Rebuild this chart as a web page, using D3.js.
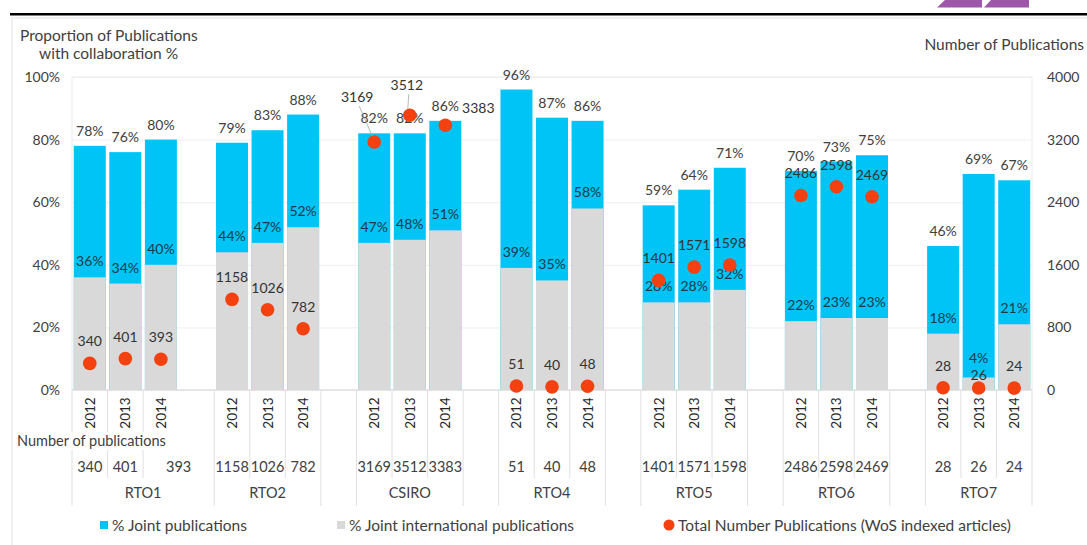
<!DOCTYPE html>
<html>
<head>
<meta charset="utf-8">
<script src="https://cdn.jsdelivr.net/npm/d3@7"></script>
<style>
  html, body { margin: 0; padding: 0; background: #fff; }
  svg { display: block; font-family: Lato, "Open Sans", sans-serif; }
</style>
</head>
<body>
<svg id="chart" width="1087" height="545"></svg>
<script>
// ---------- DATA ----------
const groups = ["RTO1", "RTO2", "CSIRO", "RTO4", "RTO5", "RTO6", "RTO7"];
const years = ["2012", "2013", "2014"];
const jointPct = [78, 76, 80, 79, 83, 88, 82, 82, 86, 96, 87, 86, 59, 64, 71, 70, 73, 75, 46, 69, 67];
const intlPct = [36, 34, 40, 44, 47, 52, 47, 48, 51, 39, 35, 58, 28, 28, 32, 22, 23, 23, 18, 4, 21];
const totalPubs = [340, 401, 393, 1158, 1026, 782, 3169, 3512, 3383, 51, 40, 48, 1401, 1571, 1598, 2486, 2598, 2469, 28, 26, 24];
const leftTicks = [0, 20, 40, 60, 80, 100];
const rightTicks = [0, 800, 1600, 2400, 3200, 4000];
const legendLabels = ["% Joint publications", "% Joint international publications", "Total Number Publications (WoS indexed articles)"];

// ---------- SETUP ----------
const svg = d3.select("#chart");
const BLUE = "#00c3f6", GREY = "#d9d9d9", RED = "#f5400f", TXT = "#404040";
const L = 72, R = 1032, T = 77, B = 390;
const FS_LAB = 14, FS_TITLE = 15.5;

// slots: 3 years per group + a blank slot between groups
const slots = [];
const rows = [];
groups.forEach((g, gi) => {
  years.forEach((y, yi) => {
    const key = g + "-" + y;
    slots.push(key);
    const i = gi * 3 + yi;
    rows.push({ key, group: g, year: y, gi, yi, joint: jointPct[i], intl: intlPct[i], total: totalPubs[i] });
  });
  if (gi < groups.length - 1) slots.push("blank-" + gi);
});

const x = d3.scaleBand().domain(slots).range([L, R]).paddingInner(0.1).paddingOuter(0.05);
const step = x.step();
const cx = k => x(k) + x.bandwidth() / 2;
const y = d3.scaleLinear().domain([0, 100]).range([B, T]);
const yR = d3.scaleLinear().domain([0, 4000]).range([B, T]);

// frame / decoration
svg.append("rect").attr("x", 12).attr("y", 18).attr("width", 1090).attr("height", 540)
  .attr("fill", "none").attr("stroke", "#e3e3e3");
svg.append("line").attr("x1", 10).attr("x2", 1087).attr("y1", 14.3).attr("y2", 14.3)
  .attr("stroke", "#000").attr("stroke-width", 2.6);
svg.append("polygon").attr("points", "945,0 982,0 982,7.5 937,7.5").attr("fill", "#9d58a9");
svg.append("polygon").attr("points", "991,0 1029,0 1029,7.5 984,7.5").attr("fill", "#9d58a9");

// plot area border + grid
svg.append("rect").attr("x", L).attr("y", T).attr("width", R - L).attr("height", B - T)
  .attr("fill", "none").attr("stroke", "#ececec");
const grid = svg.append("g").attr("transform", `translate(${L},0)`)
  .call(d3.axisLeft(y).tickValues(leftTicks).tickSize(-(R - L)).tickFormat(""));
grid.select(".domain").remove();
grid.selectAll("line").attr("stroke", "#eeeeee");

// left axis
const ax = svg.append("g").attr("transform", `translate(${L},0)`)
  .call(d3.axisLeft(y).tickValues(leftTicks).tickSize(0).tickPadding(12).tickFormat(d => d + "%"));
ax.select(".domain").remove();
ax.selectAll("text").attr("font-size", 14).attr("fill", TXT).attr("font-family", "Lato, sans-serif");

// right axis
const axR = svg.append("g").attr("transform", `translate(${R},0)`)
  .call(d3.axisRight(yR).tickValues(rightTicks).tickSize(0).tickPadding(15).tickFormat(d3.format("d")));
axR.select(".domain").remove();
axR.selectAll("text").attr("font-size", 14).attr("fill", TXT).attr("font-family", "Lato, sans-serif");

// titles
svg.append("text").attr("x", 20).attr("y", 41).attr("font-size", FS_TITLE).attr("fill", TXT).text("Proportion of Publications");
svg.append("text").attr("x", 39).attr("y", 59).attr("font-size", FS_TITLE).attr("fill", TXT).text("with collaboration %");
svg.append("text").attr("x", 1084).attr("y", 50).attr("text-anchor", "end").attr("font-size", FS_TITLE).attr("fill", TXT).text("Number of Publications");

// bars
const bars = svg.append("g");
bars.selectAll("rect.joint").data(rows).enter().append("rect")
  .attr("x", d => x(d.key)).attr("width", x.bandwidth())
  .attr("y", d => y(d.joint)).attr("height", d => B - y(d.joint)).attr("fill", BLUE);
bars.selectAll("rect.intl").data(rows).enter().append("rect")
  .attr("x", d => x(d.key)).attr("width", x.bandwidth())
  .attr("y", d => y(d.intl)).attr("height", d => B - y(d.intl)).attr("fill", GREY);

// baseline
svg.append("line").attr("x1", L).attr("x2", R).attr("y1", B).attr("y2", B).attr("stroke", "#d9d9d9");

// bar labels
const intlShift = { "RTO7-2013": -3 };
const lab = svg.append("g").attr("font-size", FS_LAB).attr("text-anchor", "middle");
lab.selectAll("text.j").data(rows).enter().append("text")
  .attr("x", d => cx(d.key)).attr("y", d => y(d.joint) - 10).attr("fill", TXT)
  .text(d => d.joint + "%");
lab.selectAll("text.i").data(rows).enter().append("text")
  .attr("x", d => cx(d.key)).attr("y", d => y(d.intl) - 11 + (intlShift[d.key] || 0)).attr("fill", "#1e3a4a")
  .text(d => d.intl + "%");

// dots
svg.append("g").selectAll("circle").data(rows).enter().append("circle")
  .attr("cx", d => cx(d.key)).attr("cy", d => yR(d.total)).attr("r", 6.8).attr("fill", RED);

// dot labels (a few are moved aside like in the original)
const moved = {
  "CSIRO-2012": { dx: -17, dy: -23, leader: true },
  "CSIRO-2013": { dx: -3, dy: -8, leader: true },
  "CSIRO-2014": { dx: 33, dy: 5, leader: false },
  "RTO7-2013": { dx: 0, dy: 9, leader: false }
};
const dl = svg.append("g").attr("font-size", FS_LAB).attr("text-anchor", "middle");
rows.forEach(d => {
  const m = moved[d.key] || { dx: 0, dy: 0 };
  const px = cx(d.key) + m.dx, py = yR(d.total) - 17 + m.dy;
  if (m.leader) {
    dl.append("line").attr("x1", px + 2).attr("y1", py + 4).attr("x2", cx(d.key) - 2).attr("y2", yR(d.total) - 6)
      .attr("stroke", "#a6a6a6").attr("stroke-width", 0.8);
  }
  dl.append("text").attr("x", px).attr("y", py).attr("fill", "#333").text(d.total);
});

// ---------- CATEGORY TABLE ----------
const rowEnd = 478, grpEnd = 506;
const bound = k => L + k * step;
// in-row dividers (year + numbers rows): all slot boundaries except where RTO1 2014 merges with blank
const firstBlankIdx = slots.indexOf("blank-0");
const rowDividers = d3.range(0, slots.length + 1).filter(k => k !== firstBlankIdx);
svg.append("g").selectAll("line").data(rowDividers).enter().append("line")
  .attr("x1", k => bound(k)).attr("x2", k => bound(k)).attr("y1", B).attr("y2", rowEnd)
  .attr("stroke", "#e0e0e0");
// group dividers
const grpDividers = [0];
slots.forEach((s, k) => {
  if (s.startsWith("blank")) {
    if (k !== firstBlankIdx) grpDividers.push(k);
    grpDividers.push(k + 1);
  }
});
grpDividers.push(slots.length);
svg.append("g").selectAll("line").data(grpDividers).enter().append("line")
  .attr("x1", k => bound(k)).attr("x2", k => bound(k)).attr("y1", rowEnd).attr("y2", grpEnd)
  .attr("stroke", "#e0e0e0");

// year labels
svg.append("g").selectAll("text").data(rows).enter().append("text")
  .attr("transform", d => `translate(${cx(d.key)},413) rotate(-90)`)
  .attr("text-anchor", "middle").attr("dominant-baseline", "central")
  .attr("font-size", 13.5).attr("fill", "#262626").text(d => d.year);

// "Number of publications" row title
svg.append("rect").attr("x", 14).attr("y", 432).attr("width", 156).attr("height", 18).attr("fill", "#fff");
svg.append("text").attr("x", 17).attr("y", 446).attr("font-size", 14.5).attr("fill", TXT).text("Number of publications");

// number row
svg.append("g").selectAll("text").data(rows).enter().append("text")
  .attr("x", d => {
    const k = slots.indexOf(d.key);
    return (k + 1 === firstBlankIdx) ? (bound(k) + bound(k + 2)) / 2 : cx(d.key);
  })
  .attr("y", 472).attr("text-anchor", "middle").attr("font-size", 14.5).attr("fill", TXT)
  .text(d => d.total);

// group labels
svg.append("g").selectAll("text").data(groups).enter().append("text")
  .attr("x", (g, gi) => {
    const k0 = slots.indexOf(g + "-2012");
    const k1 = gi === 0 ? firstBlankIdx + 1 : slots.indexOf(g + "-2014") + 1;
    return (bound(k0) + bound(k1)) / 2;
  })
  .attr("y", 498).attr("text-anchor", "middle").attr("font-size", 14.5).attr("fill", TXT)
  .text(g => g);

// ---------- LEGEND ----------
const lg = svg.append("g").attr("font-size", FS_TITLE).attr("fill", TXT);
lg.append("rect").attr("x", 100).attr("y", 521).attr("width", 8).attr("height", 8).attr("fill", BLUE);
lg.append("text").attr("x", 112).attr("y", 530.5).text(legendLabels[0]);
lg.append("rect").attr("x", 337).attr("y", 521).attr("width", 8).attr("height", 8).attr("fill", GREY);
lg.append("text").attr("x", 349).attr("y", 530.5).text(legendLabels[1]);
lg.append("circle").attr("cx", 669).attr("cy", 525).attr("r", 5.5).attr("fill", RED);
lg.append("text").attr("x", 678).attr("y", 530.5).text(legendLabels[2]);
</script>
</body>
</html>
